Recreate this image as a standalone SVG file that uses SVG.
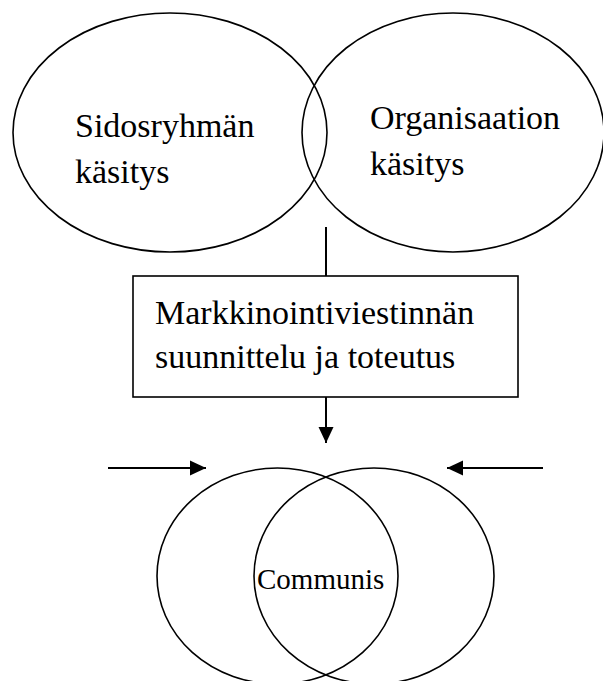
<svg xmlns="http://www.w3.org/2000/svg" width="603" height="681" viewBox="0 0 603 681">
  <style>
    .shape { fill: none; stroke: #000; stroke-width: 1.6; }
    .wire { fill: none; stroke: #000; stroke-width: 2; }
    .big { font-family: "Liberation Serif", "Times New Roman", serif; font-size: 34px; fill: #000; }
    .small { font-family: "Liberation Serif", "Times New Roman", serif; font-size: 29px; fill: #000; }
  </style>
  <defs>
    <marker id="head" markerUnits="userSpaceOnUse" markerWidth="16" markerHeight="16" refX="16" refY="8" orient="auto">
      <path d="M0,0.5 L16,8 L0,15.5 Z" fill="#000"/>
    </marker>
  </defs>
  <rect width="603" height="681" fill="#fff"/>

  <g id="sidosryhma">
    <ellipse class="shape" cx="170" cy="132.5" rx="157" ry="119.5"/>
    <text class="big" x="75" y="137">Sidosryhmän</text>
    <text class="big" x="75" y="183">käsitys</text>
  </g>

  <g id="organisaatio">
    <ellipse class="shape" cx="453" cy="132.5" rx="151" ry="119.5"/>
    <text class="big" x="370" y="129">Organisaation</text>
    <text class="big" x="370" y="175">käsitys</text>
  </g>

  <g id="suunnittelu">
    <rect class="shape" x="133" y="276" width="385" height="121"/>
    <text class="big" x="155" y="324">Markkinointiviestinnän</text>
    <text class="big" x="155" y="368">suunnittelu ja toteutus</text>
  </g>

  <g id="communis">
    <ellipse class="shape" cx="277.5" cy="576" rx="120.5" ry="108"/>
    <ellipse class="shape" cx="374" cy="576" rx="120" ry="108"/>
    <text class="small" x="257" y="589">Communis</text>
  </g>

  <g id="connectors">
    <line class="wire" x1="326" y1="227" x2="326" y2="276"/>
    <line class="wire" x1="326" y1="397" x2="326" y2="443" marker-end="url(#head)"/>
    <line class="wire" x1="108" y1="468" x2="206" y2="468" marker-end="url(#head)"/>
    <line class="wire" x1="543" y1="468" x2="447" y2="468" marker-end="url(#head)"/>
  </g>
</svg>
